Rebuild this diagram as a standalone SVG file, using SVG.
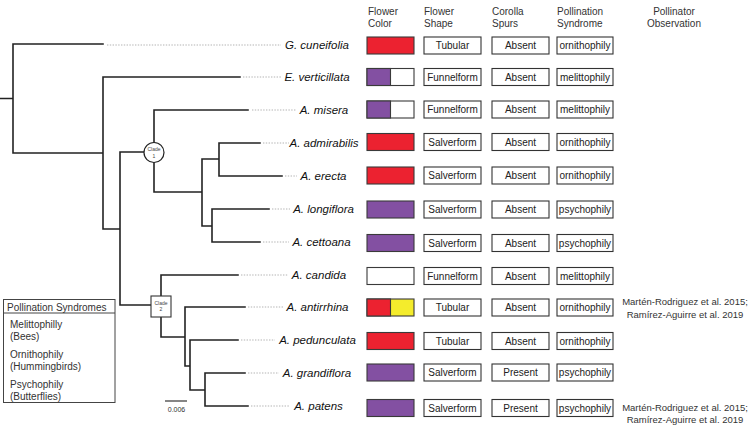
<svg xmlns="http://www.w3.org/2000/svg" width="750" height="425" viewBox="0 0 750 425">
<style>
.br{stroke:#222;stroke-width:1.6;fill:none;stroke-linecap:square}
.dot{stroke:#aaa;stroke-width:0.9;stroke-dasharray:1.4 1.4;fill:none}
.tx{font-family:"Liberation Sans",Arial,sans-serif;font-style:italic;font-size:11.5px;fill:#111;text-anchor:middle}
.hd{font-family:"Liberation Sans",Arial,sans-serif;font-size:10px;fill:#333}
.bx{fill:#fff;stroke:#333;stroke-width:1.1}
.bt{font-family:"Liberation Sans",Arial,sans-serif;font-size:10px;fill:#222;text-anchor:middle}
.cb{stroke:#3a3a3a;stroke-width:1.1}
.red{fill:#EC2230}
.pur{fill:#8350A2}
.yel{fill:#F4EC2C}
.wht{fill:#fff}
.ct{font-family:"Liberation Sans",Arial,sans-serif;font-size:9.5px;fill:#333;text-anchor:middle}
.lg{font-family:"Liberation Sans",Arial,sans-serif;font-size:10px;fill:#333}
.cl{font-family:"Liberation Sans",Arial,sans-serif;font-size:5px;fill:#444;text-anchor:middle}
</style>
<rect width="750" height="425" fill="#fff"/>

<g id="headers">
<text class="hd" x="368" y="15">Flower</text><text class="hd" x="368" y="27">Color</text>
<text class="hd" x="424" y="15">Flower</text><text class="hd" x="424" y="27">Shape</text>
<text class="hd" x="492" y="15">Corolla</text><text class="hd" x="492" y="27">Spurs</text>
<text class="hd" x="557" y="15">Pollination</text><text class="hd" x="557" y="27">Syndrome</text>
<text class="hd" x="674" y="15" text-anchor="middle">Pollinator</text><text class="hd" x="674" y="27" text-anchor="middle">Observation</text>
</g>

<g id="connectors">
<path class="br" d="M0 98.5H13M13 44V153M13 44H103M13 153H103M103 77V229M103 77H240M103 229H120M120 152V305M120 152H146M120 305H151"/>
<path class="br" d="M154 110V192M154 110H248M154 192H202M202 159V226M202 159H219M219 143V176M219 143H260M219 176H282M202 226H212M212 209V242M212 209H269M212 242H260"/>
<path class="br" d="M161 275V337M161 275H238M161 337H185M185 307V366M185 307H245M185 366H190M190 340V390M190 340H238M190 390H205M205 373V406M205 373H245M205 406H248"/>
<g class="dot">
<path d="M107 45H281"/><path d="M243 77H281"/><path d="M252 110H296"/><path d="M263 143H289"/><path d="M285 176H297"/><path d="M272 209H290"/><path d="M263 242H289"/><path d="M241 275H288"/><path d="M248 307H283"/><path d="M241 340H275"/><path d="M248 373H279"/><path d="M251 406H290"/>
</g>
</g>

<g id="clade1">
<circle cx="154" cy="152.5" r="10" fill="#fff" stroke="#222" stroke-width="1.2"/>
<text class="cl" x="154" y="151">Clade</text><text class="cl" x="154" y="157.5">1</text>
</g>
<g id="clade2">
<rect x="151" y="296" width="20" height="21" fill="#fff" stroke="#333" stroke-width="1.1"/>
<text class="cl" x="161" y="304.5">Clade</text><text class="cl" x="161" y="311">2</text>
</g>

<g id="taxon-g-cuneifolia">
<text class="tx" x="317" y="49">G. cuneifolia</text>
<rect class="cb red" x="367" y="37" width="47" height="17"/>
<rect class="bx" x="424" y="37" width="57" height="17"/><text class="bt" x="452.5" y="49">Tubular</text>
<rect class="bx" x="492" y="37" width="57" height="17"/><text class="bt" x="520.5" y="49">Absent</text>
<rect class="bx" x="557" y="37" width="56" height="17"/><text class="bt" x="585" y="49">ornithophily</text>
</g>
<g id="taxon-e-verticillata">
<text class="tx" x="317" y="81">E. verticillata</text>
<rect class="cb wht" x="367" y="68.5" width="47" height="17"/><rect class="cb pur" x="367" y="68.5" width="23.5" height="17"/>
<rect class="bx" x="424" y="68.5" width="57" height="17"/><text class="bt" x="452.5" y="80.5">Funnelform</text>
<rect class="bx" x="492" y="68.5" width="57" height="17"/><text class="bt" x="520.5" y="80.5">Absent</text>
<rect class="bx" x="557" y="68.5" width="56" height="17"/><text class="bt" x="585" y="80.5">melittophily</text>
</g>
<g id="taxon-a-misera">
<text class="tx" x="324" y="114">A. misera</text>
<rect class="cb wht" x="367" y="101" width="47" height="17"/><rect class="cb pur" x="367" y="101" width="23.5" height="17"/>
<rect class="bx" x="424" y="101" width="57" height="17"/><text class="bt" x="452.5" y="113">Funnelform</text>
<rect class="bx" x="492" y="101" width="57" height="17"/><text class="bt" x="520.5" y="113">Absent</text>
<rect class="bx" x="557" y="101" width="56" height="17"/><text class="bt" x="585" y="113">melittophily</text>
</g>
<g id="taxon-a-admirabilis">
<text class="tx" x="324" y="147">A. admirabilis</text>
<rect class="cb red" x="367" y="133.5" width="47" height="17"/>
<rect class="bx" x="424" y="133.5" width="57" height="17"/><text class="bt" x="452.5" y="145.5">Salverform</text>
<rect class="bx" x="492" y="133.5" width="57" height="17"/><text class="bt" x="520.5" y="145.5">Absent</text>
<rect class="bx" x="557" y="133.5" width="56" height="17"/><text class="bt" x="585" y="145.5">ornithophily</text>
</g>
<g id="taxon-a-erecta">
<text class="tx" x="323.5" y="180">A. erecta</text>
<rect class="cb red" x="367" y="167" width="47" height="17"/>
<rect class="bx" x="424" y="167" width="57" height="17"/><text class="bt" x="452.5" y="179">Salverform</text>
<rect class="bx" x="492" y="167" width="57" height="17"/><text class="bt" x="520.5" y="179">Absent</text>
<rect class="bx" x="557" y="167" width="56" height="17"/><text class="bt" x="585" y="179">ornithophily</text>
</g>
<g id="taxon-a-longiflora">
<text class="tx" x="323.5" y="213">A. longiflora</text>
<rect class="cb pur" x="367" y="201" width="47" height="17"/>
<rect class="bx" x="424" y="201" width="57" height="17"/><text class="bt" x="452.5" y="213">Salverform</text>
<rect class="bx" x="492" y="201" width="57" height="17"/><text class="bt" x="520.5" y="213">Absent</text>
<rect class="bx" x="557" y="201" width="56" height="17"/><text class="bt" x="585" y="213">psychophily</text>
</g>
<g id="taxon-a-cettoana">
<text class="tx" x="321.5" y="246">A. cettoana</text>
<rect class="cb pur" x="367" y="234.5" width="47" height="17"/>
<rect class="bx" x="424" y="234.5" width="57" height="17"/><text class="bt" x="452.5" y="246.5">Salverform</text>
<rect class="bx" x="492" y="234.5" width="57" height="17"/><text class="bt" x="520.5" y="246.5">Absent</text>
<rect class="bx" x="557" y="234.5" width="56" height="17"/><text class="bt" x="585" y="246.5">psychophily</text>
</g>
<g id="taxon-a-candida">
<text class="tx" x="319" y="279">A. candida</text>
<rect class="cb wht" x="367" y="267.5" width="47" height="17"/>
<rect class="bx" x="424" y="267.5" width="57" height="17"/><text class="bt" x="452.5" y="279.5">Funnelform</text>
<rect class="bx" x="492" y="267.5" width="57" height="17"/><text class="bt" x="520.5" y="279.5">Absent</text>
<rect class="bx" x="557" y="267.5" width="56" height="17"/><text class="bt" x="585" y="279.5">melittophily</text>
</g>
<g id="taxon-a-antirrhina">
<text class="tx" x="317.5" y="311">A. antirrhina</text>
<rect class="cb yel" x="367" y="299" width="47" height="17"/><rect class="cb red" x="367" y="299" width="23.5" height="17"/>
<rect class="bx" x="424" y="299" width="57" height="17"/><text class="bt" x="452.5" y="311">Tubular</text>
<rect class="bx" x="492" y="299" width="57" height="17"/><text class="bt" x="520.5" y="311">Absent</text>
<rect class="bx" x="557" y="299" width="56" height="17"/><text class="bt" x="585" y="311">ornithophily</text>
<text class="ct" x="685" y="305">Martén-Rodriguez et al. 2015;</text>
<text class="ct" x="685" y="317.5">Ramírez-Aguirre et al. 2019</text>
</g>
<g id="taxon-a-pedunculata">
<text class="tx" x="317.5" y="344">A. pedunculata</text>
<rect class="cb red" x="367" y="332.5" width="47" height="17"/>
<rect class="bx" x="424" y="332.5" width="57" height="17"/><text class="bt" x="452.5" y="344.5">Tubular</text>
<rect class="bx" x="492" y="332.5" width="57" height="17"/><text class="bt" x="520.5" y="344.5">Absent</text>
<rect class="bx" x="557" y="332.5" width="56" height="17"/><text class="bt" x="585" y="344.5">ornithophily</text>
</g>
<g id="taxon-a-grandiflora">
<text class="tx" x="317" y="377">A. grandiflora</text>
<rect class="cb pur" x="367" y="364" width="47" height="17"/>
<rect class="bx" x="424" y="364" width="57" height="17"/><text class="bt" x="452.5" y="376">Salverform</text>
<rect class="bx" x="492" y="364" width="57" height="17"/><text class="bt" x="520.5" y="376">Present</text>
<rect class="bx" x="557" y="364" width="56" height="17"/><text class="bt" x="585" y="376">psychophily</text>
</g>
<g id="taxon-a-patens">
<text class="tx" x="318.5" y="410">A. patens</text>
<rect class="cb pur" x="367" y="399.5" width="47" height="17"/>
<rect class="bx" x="424" y="399.5" width="57" height="17"/><text class="bt" x="452.5" y="411.5">Salverform</text>
<rect class="bx" x="492" y="399.5" width="57" height="17"/><text class="bt" x="520.5" y="411.5">Present</text>
<rect class="bx" x="557" y="399.5" width="56" height="17"/><text class="bt" x="585" y="411.5">psychophily</text>
<text class="ct" x="685" y="410.5">Martén-Rodriguez et al. 2015;</text>
<text class="ct" x="685" y="423">Ramírez-Aguirre et al. 2019</text>
</g>

<g id="legend">
<rect x="3.5" y="299.5" width="111.5" height="103" fill="#fff" stroke="#444" stroke-width="1"/>
<line x1="3.5" y1="313" x2="115" y2="313" stroke="#444" stroke-width="1"/>
<text class="lg" x="7" y="311">Pollination Syndromes</text>
<text class="lg" x="10" y="328">Melittophilly</text>
<text class="lg" x="10" y="340">(Bees)</text>
<text class="lg" x="10" y="358">Ornithophily</text>
<text class="lg" x="10" y="370">(Hummingbirds)</text>
<text class="lg" x="10" y="388">Psychophily</text>
<text class="lg" x="10" y="400">(Butterflies)</text>
</g>

<g id="scale-bar">
<line x1="165" y1="401" x2="187" y2="401" stroke="#222" stroke-width="1.1"/>
<text x="176.5" y="411.5" text-anchor="middle" font-family="Liberation Sans, Arial, sans-serif" font-size="7px" fill="#333">0.006</text>
</g>
</svg>
